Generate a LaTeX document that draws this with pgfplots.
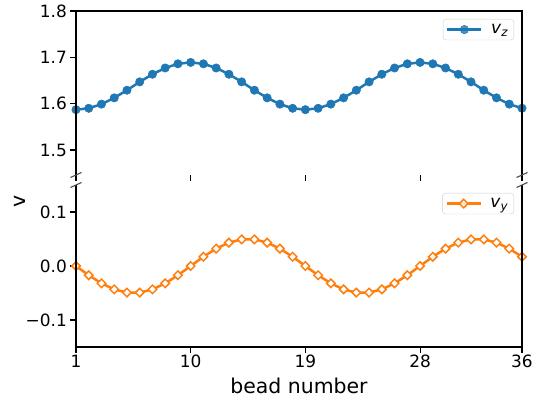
\documentclass[border=0pt]{standalone}
\usepackage{pgfplots}
\pgfplotsset{compat=1.18}
\usepackage{fontspec}
\setmainfont{DejaVu Sans}
\definecolor{mblue}{HTML}{1F77B4}
\definecolor{morange}{HTML}{FF7F0E}
\newcommand{\lgfont}{\fontsize{17}{20}\selectfont}
\pgfplotsset{
  mystyle/.style={
    scale only axis, width=446bp,
    xmin=1, xmax=36,
    xtick={1,10,19,28,36},
    axis line style={draw=none},
    tick align=outside,
    major tick length=6bp,
    every tick/.style={black, line width=1.1bp},
    xtick pos=bottom, ytick pos=left,
    tick label style={font=\fontsize{17}{20}\selectfont, inner sep=3bp},
    legend cell align=left,
    legend style={at={(1,1)}, anchor=north east, xshift=-8bp, yshift=-8bp,
      draw=black!20, rounded corners=3bp, fill=white, fill opacity=0.8, text opacity=1,
      font=\lgfont, inner xsep=3bp, inner ysep=1.5bp,
      nodes={inner xsep=2.5bp, inner ysep=3.5bp}},
    legend image code/.code={\draw[mark repeat=2,mark phase=2] plot coordinates {(0bp,0bp) (17bp,0bp) (34bp,0bp)};},
  }
}
\begin{document}
\begin{tikzpicture}[x=1bp,y=1bp]
\begin{axis}[mystyle, name=top, at={(76bp,227bp)}, anchor=south west, height=164bp,
  ymin=1.446, ymax=1.8, ytick={1.5,1.6,1.7,1.8}, yticklabels={1.5,1.6,1.7,1.8},
  xticklabels={}]
\addplot[mblue, line width=2.5bp, mark=*, mark size=4.2bp, mark options={solid, fill=mblue, draw=mblue, line width=0.5bp}]
coordinates {
(1,1.587)(2,1.590)(3,1.599)(4,1.6125)(5,1.629)(6,1.647)(7,1.6635)(8,1.677)(9,1.686)
(10,1.689)(11,1.686)(12,1.677)(13,1.6635)(14,1.647)(15,1.629)(16,1.6125)(17,1.599)(18,1.590)
(19,1.587)(20,1.590)(21,1.599)(22,1.6125)(23,1.629)(24,1.647)(25,1.6635)(26,1.677)(27,1.686)
(28,1.689)(29,1.686)(30,1.677)(31,1.6635)(32,1.647)(33,1.629)(34,1.6125)(35,1.599)(36,1.590)
};
\addlegendentry{\lgfont\hspace{6bp}\textit{v}\textsubscript{\textit{z}}\hspace{4bp}}
\end{axis}
\begin{axis}[mystyle, name=bot, at={(76bp,55bp)}, anchor=south west, height=162bp,
  ymin=-0.15, ymax=0.15, ytick={-0.1,0,0.1}, yticklabels={−0.1,0.0,0.1},
  xticklabels={1,10,19,28,36}, xticklabel style={inner sep=2bp}]
\addplot[morange, line width=2.5bp, mark=square*, mark size=3bp, mark options={solid, fill=white, draw=morange, rotate=45, line width=1.5bp}]
coordinates {
(1,0)(2,-0.0171)(3,-0.0321)(4,-0.0433)(5,-0.0492)(6,-0.0492)(7,-0.0433)(8,-0.0321)(9,-0.0171)
(10,0)(11,0.0171)(12,0.0321)(13,0.0433)(14,0.0492)(15,0.0492)(16,0.0433)(17,0.0321)(18,0.0171)
(19,0)(20,-0.0171)(21,-0.0321)(22,-0.0433)(23,-0.0492)(24,-0.0492)(25,-0.0433)(26,-0.0321)(27,-0.0171)
(28,0)(29,0.0171)(30,0.0321)(31,0.0433)(32,0.0492)(33,0.0492)(34,0.0433)(35,0.0321)(36,0.0171)
};
\addlegendentry{\lgfont\hspace{6bp}\textit{v}\textsubscript{\textit{y}}\hspace{4bp}}
\end{axis}
% spines
\draw[black, line width=1.1bp] (top.south west) -- (top.north west) -- (top.north east) -- (top.south east);
\draw[black, line width=1.1bp] (bot.north west) -- (bot.south west) -- (bot.south east) -- (bot.north east);
% break marks
\foreach \c in {top.south west, top.south east, bot.north west, bot.north east}
  \draw[black!70, line width=1.1bp] ([shift={(-5.5bp,-2.5bp)}]\c) -- ++(11bp,5bp);
% labels
\node[anchor=base, font=\fontsize{20.5}{24}\selectfont] at (299bp,9bp) {bead number};
\node[rotate=90, font=\fontsize{20.5}{24}\selectfont] at (20bp,201bp) {v};
\pgfresetboundingbox
\path (0,0) rectangle (533bp,402bp);
\end{tikzpicture}
\end{document}
